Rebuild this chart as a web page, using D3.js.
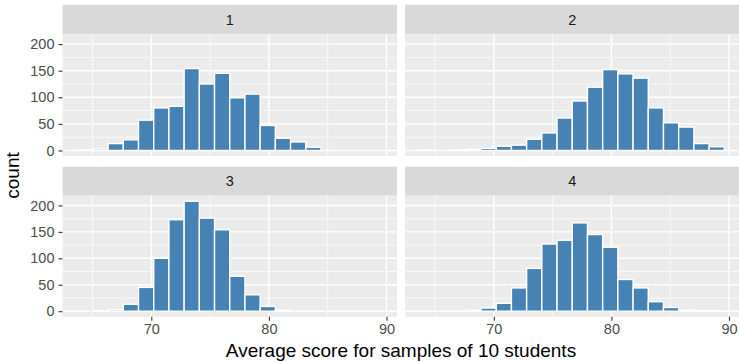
<!DOCTYPE html>
<html>
<head>
<meta charset="utf-8">
<script src="https://cdn.jsdelivr.net/npm/d3@7/dist/d3.min.js"></script>
<style>
  html, body { margin: 0; padding: 0; background: #fff; }
  svg { display: block; font-family: "Liberation Sans", Arial, Helvetica, sans-serif; }
</style>
</head>
<body>
<svg id="chart" width="739" height="362"></svg>
<script>
// ---- data ----
const facets = ["1", "2", "3", "4"];
const binStart = 63.74;
const binWidth = 1.293;
const counts1 = [1, 3, 13, 20, 57, 80, 83, 154, 125, 145, 99, 106, 47, 23, 16, 6, 0, 0, 0, 0];
const counts2 = [1, 0, 1, 2, 4, 8, 10, 21, 33, 61, 93, 119, 152, 144, 136, 80, 52, 44, 13, 7];
const counts3 = [0, 1, 3, 13, 45, 100, 173, 208, 176, 154, 66, 31, 9, 2, 0, 0, 0, 0, 0, 0];
const counts4 = [0, 0, 0, 2, 6, 15, 44, 81, 127, 134, 167, 145, 121, 60, 44, 18, 7, 2, 1, 1];
const xTicks = [70, 80, 90];
const xMinor = [65, 75, 85];
const yTicks = [0, 50, 100, 150, 200];
const yMinor = [25, 75, 125, 175];
const xTitle = "Average score for samples of 10 students";
const yTitle = "count";

const allCounts = [counts1, counts2, counts3, counts4];

// ---- layout ----
const svg = d3.select("#chart");
const colX = [62.5, 405];
const panelW = 334.5;
const rows = [
  { stripTop: 4.7, top: 34.3, bottom: 156 },
  { stripTop: 166.7, top: 195.7, bottom: 316.7 }
];

const nb = counts1.length;
const dataMin = binStart, dataMax = binStart + nb * binWidth;
const xpad = (dataMax - dataMin) * 0.05;
const yMax = d3.max(allCounts.flat());
const ypad = yMax * 0.05;

const tickFont = 14.5;

facets.forEach((f, i) => {
  const c = i % 2, r = Math.floor(i / 2);
  const L = colX[c], R = L + panelW;
  const row = rows[r];
  const x = d3.scaleLinear().domain([dataMin - xpad, dataMax + xpad]).range([L, R]);
  const y = d3.scaleLinear().domain([-ypad, yMax + ypad]).range([row.bottom, row.top]);
  const g = svg.append("g");

  // strip
  g.append("rect").attr("x", L).attr("y", row.stripTop).attr("width", panelW)
    .attr("height", row.top - row.stripTop).attr("fill", "#D9D9D9");
  g.append("text").attr("x", (L + R) / 2).attr("y", (row.stripTop + row.top) / 2)
    .attr("dy", "0.35em").attr("text-anchor", "middle").attr("fill", "#1A1A1A")
    .attr("font-size", tickFont).text(f);

  // panel background
  g.append("rect").attr("x", L).attr("y", row.top).attr("width", panelW)
    .attr("height", row.bottom - row.top).attr("fill", "#EBEBEB");

  // grid
  const grid = g.append("g").attr("stroke", "#fff");
  grid.selectAll(".ymin").data(yMinor).join("line")
    .attr("x1", L).attr("x2", R).attr("y1", d => y(d)).attr("y2", d => y(d)).attr("stroke-width", 0.7);
  grid.selectAll(".xmin").data(xMinor).join("line")
    .attr("y1", row.top).attr("y2", row.bottom).attr("x1", d => x(d)).attr("x2", d => x(d)).attr("stroke-width", 0.7);
  grid.selectAll(".ymaj").data(yTicks).join("line")
    .attr("x1", L).attr("x2", R).attr("y1", d => y(d)).attr("y2", d => y(d)).attr("stroke-width", 1.4);
  grid.selectAll(".xmaj").data(xTicks).join("line")
    .attr("y1", row.top).attr("y2", row.bottom).attr("x1", d => x(d)).attr("x2", d => x(d)).attr("stroke-width", 1.4);

  // bars
  const bins = allCounts[i].map((v, k) => ({ x0: binStart + k * binWidth, x1: binStart + (k + 1) * binWidth, v }));
  g.append("g").selectAll("rect").data(bins).join("rect")
    .attr("x", d => x(d.x0)).attr("width", d => x(d.x1) - x(d.x0))
    .attr("y", d => y(d.v)).attr("height", d => y(0) - y(d.v))
    .attr("fill", "#4682B4").attr("stroke", "#fff").attr("stroke-width", 1.4);

  // y axis on left column
  if (c === 0) {
    const ya = d3.axisLeft(y).tickValues(yTicks).tickSize(4).tickPadding(4);
    const ag = g.append("g").attr("transform", `translate(${L},0)`).call(ya);
    ag.select(".domain").remove();
    ag.selectAll("line").attr("stroke", "#333333").attr("stroke-width", 1.1);
    ag.selectAll("text").attr("fill", "#4D4D4D").attr("font-size", tickFont)
      .attr("font-family", "Liberation Sans, Arial, sans-serif");
  }
  // x axis on bottom row
  if (r === 1) {
    const xa = d3.axisBottom(x).tickValues(xTicks).tickSize(4).tickPadding(3);
    const ag = g.append("g").attr("transform", `translate(0,${row.bottom})`).call(xa);
    ag.select(".domain").remove();
    ag.selectAll("line").attr("stroke", "#333333").attr("stroke-width", 1.1);
    ag.selectAll("text").attr("fill", "#4D4D4D").attr("font-size", tickFont)
      .attr("font-family", "Liberation Sans, Arial, sans-serif");
  }
});

// axis titles
svg.append("text").attr("x", (colX[0] + colX[1] + panelW) / 2).attr("y", 357)
  .attr("text-anchor", "middle").attr("font-size", 19).attr("fill", "#000").text(xTitle);
svg.append("text")
  .attr("transform", `translate(19,${(rows[0].top + rows[1].bottom) / 2}) rotate(-90)`)
  .attr("text-anchor", "middle").attr("font-size", 19).attr("fill", "#000").text(yTitle);
</script>
</body>
</html>
